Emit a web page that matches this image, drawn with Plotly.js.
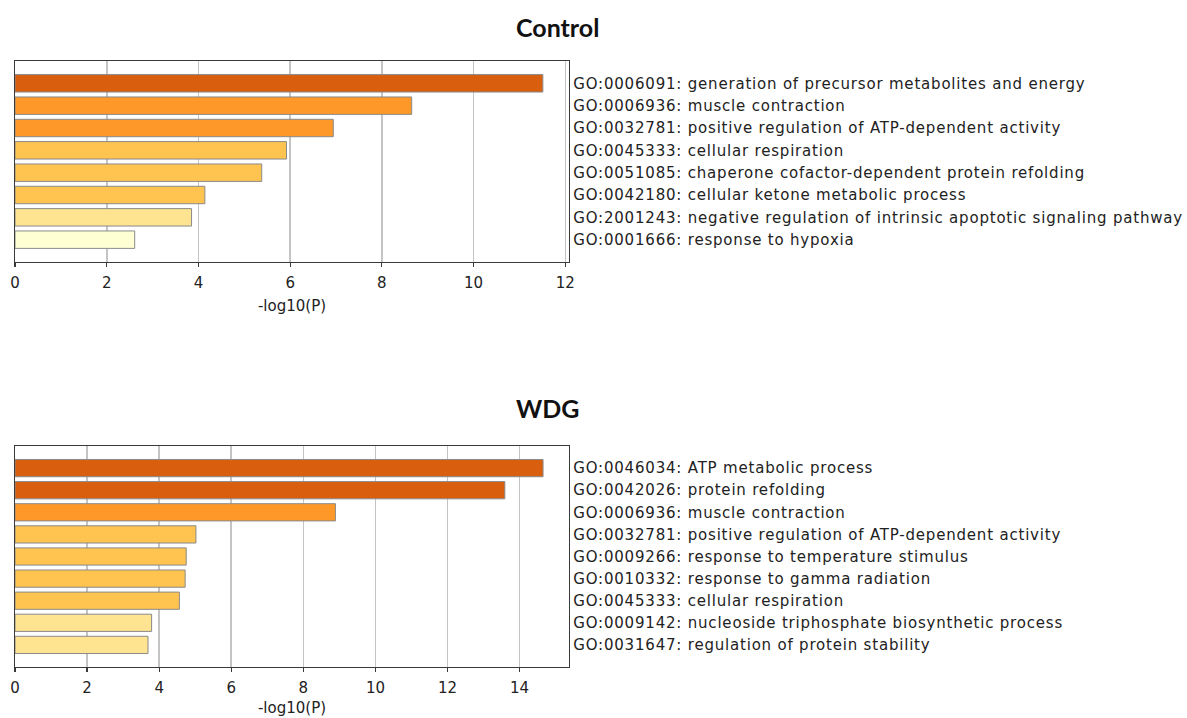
<!DOCTYPE html>
<html>
<head>
<meta charset="utf-8">
<script src="https://cdn.plot.ly/plotly-3.0.1.min.js"></script>
<style>
  html, body { margin: 0; padding: 0; background: #ffffff; }
  #chart { width: 1187px; height: 718px; }
  g.ytick text, g.y2tick text { letter-spacing: 0.8px; }
</style>
</head>
<body>
<div id="chart"></div>
<script>
// ---- Data ----
const controlIds = ["GO:0006091", "GO:0006936", "GO:0032781", "GO:0045333", "GO:0051085", "GO:0042180", "GO:2001243", "GO:0001666"];
const controlTerms = [
  "generation of precursor metabolites and energy",
  "muscle contraction",
  "positive regulation of ATP-dependent activity",
  "cellular respiration",
  "chaperone cofactor-dependent protein refolding",
  "cellular ketone metabolic process",
  "negative regulation of intrinsic apoptotic signaling pathway",
  "response to hypoxia"
];
const controlValues = [11.51, 8.65, 6.94, 5.92, 5.38, 4.14, 3.85, 2.61];

const wdgIds = ["GO:0046034", "GO:0042026", "GO:0006936", "GO:0032781", "GO:0009266", "GO:0010332", "GO:0045333", "GO:0009142", "GO:0031647"];
const wdgTerms = [
  "ATP metabolic process",
  "protein refolding",
  "muscle contraction",
  "positive regulation of ATP-dependent activity",
  "response to temperature stimulus",
  "response to gamma radiation",
  "cellular respiration",
  "nucleoside triphosphate biosynthetic process",
  "regulation of protein stability"
];
const wdgValues = [14.65, 13.59, 8.89, 5.02, 4.75, 4.72, 4.56, 3.79, 3.69];

const xTitle = "-log10(P)";
const panelTitles = ["Control", "WDG"];

// ---- Styles ----
const controlColors = ["#D95F0E", "#FE9929", "#FE9929", "#FEC44F", "#FEC44F", "#FEC44F", "#FEE391", "#FFFFD4"];
const wdgColors = ["#D95F0E", "#D95F0E", "#FE9929", "#FEC44F", "#FEC44F", "#FEC44F", "#FEC44F", "#FEE391", "#FEE391"];

const W = 1187, H = 718;
const labelFont = { family: "DejaVu Sans", size: 15, color: "#222222" };

function labels(ids, terms) { return ids.map((id, i) => id + ": " + terms[i]); }
const controlLabels = labels(controlIds, controlTerms);
const wdgLabels = labels(wdgIds, wdgTerms);

const traces = [
  {
    type: "bar", orientation: "h",
    x: controlValues, y: controlLabels,
    xaxis: "x", yaxis: "y",
    width: 0.78,
    marker: { color: controlColors, line: { color: "#8a8a8a", width: 1 } },
    hoverinfo: "x+y", showlegend: false
  },
  {
    type: "bar", orientation: "h",
    x: wdgValues, y: wdgLabels,
    xaxis: "x2", yaxis: "y2",
    width: 0.78,
    marker: { color: wdgColors, line: { color: "#8a8a8a", width: 1 } },
    hoverinfo: "x+y", showlegend: false
  }
];

const xDomain = [15 / W, 569 / W];
function py(px) { return (H - px) / H; }

function xAxis(anchor, maxv, standoff) {
  return {
    domain: xDomain, anchor: anchor,
    range: [0, maxv], tick0: 0, dtick: 2,
    showgrid: true, gridcolor: "#c4c4c4", gridwidth: 1.6,
    zeroline: false,
    showline: true, linecolor: "#3a3a3a", linewidth: 1.3, mirror: true,
    ticks: "outside", ticklen: 4, tickwidth: 1.2, tickcolor: "#3a3a3a",
    ticklabelstandoff: 3,
    tickfont: labelFont,
    title: { text: xTitle, font: labelFont, standoff: standoff },
    automargin: false, fixedrange: true
  };
}
function yAxis(anchor, dom, n) {
  return {
    domain: dom, anchor: anchor, side: "right",
    type: "category", range: [n, -1],
    showgrid: false, zeroline: false,
    showline: true, linecolor: "#3a3a3a", linewidth: 1.3, mirror: true,
    ticks: "", tickfont: labelFont,
    automargin: false, fixedrange: true
  };
}

const layout = {
  width: W, height: H,
  margin: { l: 0, r: 0, t: 0, b: 0 },
  paper_bgcolor: "#ffffff", plot_bgcolor: "#ffffff",
  bargap: 0.2,
  xaxis: xAxis("y", 12.08, 9),
  yaxis: yAxis("x", [py(262), py(61)], controlLabels.length),
  xaxis2: xAxis("y2", 15.37, 6),
  yaxis2: yAxis("x2", [py(667), py(446)], wdgLabels.length),
  annotations: [
    { text: "<b>" + panelTitles[0] + "</b>", xref: "paper", yref: "paper",
      x: 514 / W, y: py(27), xanchor: "left", yanchor: "middle", showarrow: false,
      font: { family: "Lato", size: 25, color: "#111111" } },
    { text: "<b>" + panelTitles[1] + "</b>", xref: "paper", yref: "paper",
      x: 514 / W, y: py(408), xanchor: "left", yanchor: "middle", showarrow: false,
      font: { family: "Lato", size: 25, color: "#111111" } }
  ]
};

Plotly.newPlot("chart", traces, layout, { displayModeBar: false, staticPlot: true });
</script>
</body>
</html>
